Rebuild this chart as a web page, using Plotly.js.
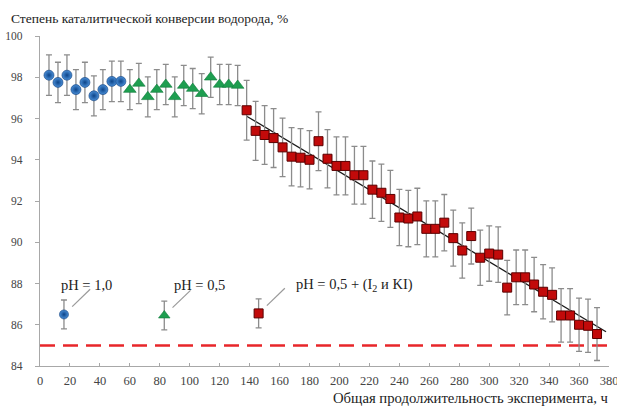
<!DOCTYPE html>
<html>
<head>
<meta charset="utf-8">
<script src="https://cdn.plot.ly/plotly-3.0.1.min.js"></script>
<style>html,body{margin:0;padding:0;background:#fff;}#chart{width:617px;height:407px;}</style>
</head>
<body>
<div id="chart"></div>
<script>
// ---- data ----
const blueHours = [6, 12, 18, 24, 30, 36, 42, 48, 54];
const blueValues = [98.1, 97.75, 98.1, 97.4, 97.75, 97.1, 97.4, 97.8, 97.8];

const greenHours = [60, 66, 72, 78, 84, 90, 96, 102, 108, 114, 120, 126, 132];
const greenValues = [97.4, 97.7, 97.05, 97.4, 97.65, 97.05, 97.6, 97.45, 97.2, 98.0, 97.65, 97.65, 97.6];

const redHours = [138, 144, 150, 156, 162, 168, 174, 180, 186, 192,
                  198, 204, 210, 216, 222, 228, 234, 240, 246, 252,
                  258, 264, 270, 276, 282, 288, 294, 300, 306, 312,
                  318, 324, 330, 336, 342, 348, 354, 360, 366, 372];
const redValues = [96.4, 95.4, 95.2, 95.05, 94.6, 94.15, 94.1, 94.0, 94.9, 94.05,
                   93.7, 93.7, 93.25, 93.25, 92.55, 92.4, 92.1, 91.2, 91.15, 91.25,
                   90.65, 90.65, 90.95, 90.2, 89.6, 90.3, 89.25, 89.45, 89.4, 87.8,
                   88.3, 88.3, 87.95, 87.6, 87.45, 86.45, 86.45, 86.0, 85.95, 85.55];

const errPercentBlueGreen = 1.0;
const errPercentRed = 1.5;

const trendHours = [138, 378];
const thresholdValue = 85;

const legendHours = [16, 83, 146];
const legendValues = [86.5, 86.45, 86.55];
const legendErr = 0.7;
const legendLabels = ['pH = 1,0', 'pH = 0,5', 'pH = 0,5 + (I<sub>2</sub> и KI)'];

const xTicks = [0,20,40,60,80,100,120,140,160,180,200,220,240,260,280,300,320,340,360,380];
const yTicks = [84,86,88,90,92,94,96,98,100];

// ---- linear trend of red series ----
function linfit(xs, ys){
  const n = xs.length;
  let sx=0, sy=0, sxx=0, sxy=0;
  for (let i=0;i<n;i++){ sx+=xs[i]; sy+=ys[i]; sxx+=xs[i]*xs[i]; sxy+=xs[i]*ys[i]; }
  const b = (n*sxy - sx*sy)/(n*sxx - sx*sx);
  const a = (sy - b*sx)/n;
  return [a,b];
}
const [ta, tb] = linfit(redHours, redValues);
const trendValues = trendHours.map(h => ta + tb*h);

const errColor = '#8c8c8c';
const serif = 'Liberation Serif';

const blueMarker = {symbol:'circle', size:10, color:'#4a8fd8', gradient:{type:'radial', color:'#0d4488'}, line:{color:'#0d3c78', width:0.6}};
const greenMarker = {symbol:'triangle-up', size:11, color:'#1e9e50', line:{color:'#0f7a3a', width:0.6}};
const redMarker = {symbol:'square', size:9, color:'#c20a0a', line:{color:'#5a0000', width:1}};

function errPct(v){ return {type:'percent', value:v, color:errColor, thickness:1.3, width:3}; }
function errConst(v){ return {type:'constant', value:v, color:errColor, thickness:1.3, width:3}; }

const traces = [
  {x: trendHours, y: trendValues, mode:'lines', line:{color:'#1a1a1a', width:1.3}, hoverinfo:'skip'},
  {x: blueHours, y: blueValues, mode:'markers', marker: blueMarker, error_y: errPct(errPercentBlueGreen)},
  {x: greenHours, y: greenValues, mode:'markers', marker: greenMarker, error_y: errPct(errPercentBlueGreen)},
  {x: redHours, y: redValues, mode:'markers', marker: redMarker, error_y: errPct(errPercentRed)},
  {x: [legendHours[0]], y: [legendValues[0]], mode:'markers', marker: Object.assign({}, blueMarker, {size:9}), error_y: errConst(legendErr)},
  {x: [legendHours[1]], y: [legendValues[1]], mode:'markers', marker: Object.assign({}, greenMarker, {size:10}), error_y: errConst(legendErr)},
  {x: [legendHours[2]], y: [legendValues[2]], mode:'markers', marker: Object.assign({}, redMarker, {size:9}), error_y: errConst(legendErr)}
];

const shapes = [
  {type:'line', xref:'paper', yref:'y', x0:0, x1:1, y0:thresholdValue, y1:thresholdValue,
   line:{color:'#e8262a', width:2.5, dash:'15px,8px'}, layer:'below'}
];
legendHours.forEach((h, i) => {
  shapes.push({type:'line', xref:'x', yref:'y', x0:h+5.5, y0:legendValues[i]+0.38, x1:h+17.5, y1:legendValues[i]+1.22,
    line:{color:'#9a9a9a', width:1.2}});
});

const labelX = [31, 106.5, 210];
const annotations = legendLabels.map((t, i) => ({
  x: labelX[i], y: 87.92, xref:'x', yref:'y', text: t, showarrow:false,
  xanchor:'center', yanchor:'middle', font:{family:serif, size:14.5, color:'#222'}
}));
annotations.push({
  x: 1.004, y: -0.097, xref:'paper', yref:'paper', text:'Общая продолжительность эксперимента, ч',
  showarrow:false, xanchor:'right', yanchor:'middle', font:{family:serif, size:14.7, color:'#222'}
});

const layout = {
  width: 617, height: 407,
  margin: {l:40, r:8, t:36, b:41},
  paper_bgcolor:'#fff', plot_bgcolor:'#fff',
  showlegend:false,
  font: {family: serif},
  title: {text:'Степень каталитической конверсии водорода, %', xref:'container', yref:'container',
          x: 11/617, xanchor:'left', y: 1-18/407, yanchor:'middle',
          font:{family:serif, size:13.5, color:'#222'}},
  xaxis: {range:[0,380], tickvals:xTicks, ticktext:xTicks.map(String), showgrid:false, zeroline:false,
          showline:true, linecolor:'#a8a8a8', linewidth:1.3, ticks:'inside', ticklen:3, tickcolor:'#a8a8a8',
          tickfont:{family:serif, size:12.5, color:'#444'}, ticklabelstandoff:3, ticklabeloverflow:'allow'},
  yaxis: {range:[84,100], tickvals:yTicks, ticktext:yTicks.map(String), showgrid:false, zeroline:false,
          showline:true, linecolor:'#a8a8a8', linewidth:1.3, ticks:'outside', ticklen:4, tickcolor:'#a8a8a8',
          tickfont:{family:serif, size:11.5, color:'#444'}, ticklabelstandoff:10},
  shapes: shapes,
  annotations: annotations
};

Plotly.newPlot('chart', traces, layout, {displayModeBar:false, staticPlot:true});
</script>
</body>
</html>
